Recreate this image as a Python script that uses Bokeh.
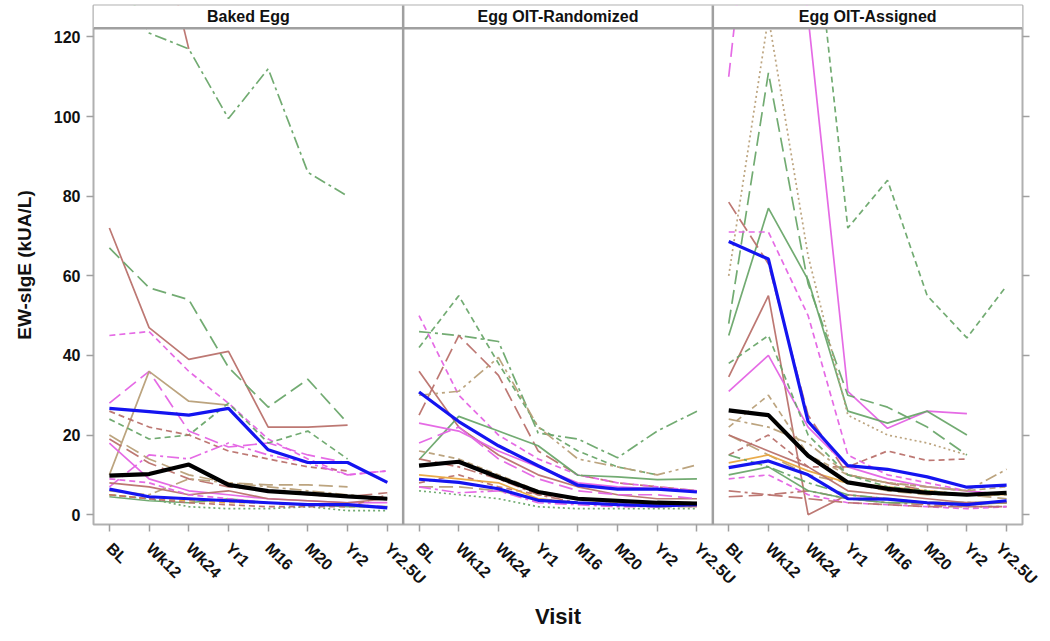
import math
import numpy as np
from bokeh.plotting import figure
from bokeh.models import FixedTicker, LinearAxis, Range1d
from bokeh.embed import file_html
from bokeh.resources import INLINE
from bokeh.core.properties import value

# ---------------- data ----------------
visits = ["BL", "Wk12", "Wk24", "Yr1", "M16", "M20", "Yr2", "Yr2.5U"]
panels = ["Baked Egg", "Egg OIT-Randomized", "Egg OIT-Assigned"]
y_ticks = [0, 20, 40, 60, 80, 100, 120]
N = None

# Baked Egg individual subjects
be_values = [
    [140, 121, 117, 99.5, 112, 86, 80, N],
    [N, 158, 117, N, N, N, N, N],
    [72, 47, 39, 41, 22, 22, 22.5, N],
    [67, 57, 54, 37, 27, 34, 23, N],
    [45, 46, 36, 28, 19, 14, 10, 11],
    [28, 36, 21, 17, 18, 15, 13, 8],
    [10, 36, 28.5, 27.5, N, N, N, N],
    [24, 19, 20, 28, 18, 21, 14, N],
    [26, 22, 20, 16, 14, 12, 11, N],
    [7, 15, 14, 18, 15, 13, 10, 11],
    [20, 14, 10, 8, 7.5, 7.5, 7, N],
    [19, 13, 9, 7, 6, 5, 4.5, 5.5],
    [18, 9, 6, 5, 4, 3.5, 3, 3],
    [5, 4, 2, 1.5, 1.5, 2, 1, 1],
    [6, 5, 9, 8, 7, 6, 5, 4],
    [5, 4, 3.5, 3, 3, 2.5, 2, 2],
    [4.5, 3.5, 3, 4, 3, 2.5, 2, 2],
    [8, 7, 5, 6, 4, 3.5, 3, 4],
    [9, 8, 5, 4, 3, 2.5, 2.5, 2],
    [5, 4, 3, 2.5, 2, 2, 2, 5],
]
be_colors = ["g", "r", "r", "g", "m", "m", "t", "g", "r", "m",
             "t", "r", "m", "g", "t", "o", "g", "r", "m", "r"]
be_dashes = ["dashdot", "solid", "solid", "longdash", "dash", "longdash", "solid", "dash", "dash", "dashdot",
             "longdash", "longdash", "solid", "dot", "dashdot", "dash", "solid", "solid", "dash", "dash"]
be_q3 = [26.7, 25.9, 25.0, 26.7, 16.3, 13.1, 13.1, 8.1]
be_median = [9.8, 10.2, 12.6, 7.5, 5.9, 5.3, 4.6, 4.0]
be_q1 = [6.4, 4.5, 4.0, 3.5, 3.0, 2.5, 2.5, 1.7]

# Egg OIT-Randomized
ro_values = [
    [46, 45, 43.5, 20.5, 19, 14.3, 21, 26],
    [42, 55, 38, 22, 16, 12, 10, N],
    [25, 45, 35, 16, 10, 8, 7, 6],
    [50, 30, 20, 14, 10, 8, 7, 6],
    [36, 22, 15, 10, 7, 5, 4, 4],
    [30, 31, 39.5, 22, 14, 12, 10, 12.5],
    [13.8, 24.7, 21, 17.3, 9.9, 9.5, 8.8, 9],
    [23, 21, 16, 12, 8, 7, 6.5, 6],
    [18, 22, 14, 9, 6, 5, 5, 4],
    [8, 10, 7, 5, 4, 3, 3, 3],
    [7, 7, 6, 4, 3, 2.5, 2, 2],
    [10, 9, 8, 4, 3, 2.5, 2, 3],
    [6, 5, 4, 2, 1.5, 1.5, 1.5, 1.5],
    [7, 5.5, 6, 3, 2.5, 2, 2, 2.5],
    [14, 12, 9, 5, 3, 2.5, 2.5, 2],
    [16, 14, 10, 6, 4, 3, 2.5, 3],
]
ro_colors = ["g", "g", "r", "m", "r", "t", "g", "m", "m", "r",
             "t", "o", "g", "m", "r", "t"]
ro_dashes = ["dashdot", "dash", "longdash", "dash", "solid", "dashdotdot", "solid", "solid", "longdash", "dash",
             "longdash", "solid", "dot", "dashdot", "dashdot", "dash"]
ro_q3 = [30.8, 23.4, 17.3, 12.3, 7.4, 6.4, 6.4, 5.7]
ro_median = [12.3, 13.3, 9.4, 5.7, 4.0, 3.5, 3.0, 2.8]
ro_q1 = [8.9, 8.1, 6.5, 3.6, 3.0, 2.5, 2.2, 2.5]

# Egg OIT-Assigned
ao_values = [
    [110, 200, N, N, N, N, N, N],
    [N, 220, 125, 31, 21.7, 26, 25.4, N],
    [N, N, 165, 72, 84, 55, 44.4, 57.5],
    [48, 111, 58, 30, 27, 22, 15, N],
    [45, 77, 59, 26, 23, 26, 20, N],
    [60, 125, 65, 25, 20, 18, 15, N],
    [78.5, 63, 25, 10, 8, 6, 5, 5],
    [71, 71, 50, 15, 10, 8, 6, 5],
    [34.6, 55, 0, 5, 4, 3, 3, 3],
    [31, 40, 22, 12, 9, 7, 6, 5],
    [15, 20, 12, 12, 16, 13.6, 14, N],
    [22, 30, 15, 10, 8, 7, 6, 7],
    [20, 15, 10, 8, 6, 5, 5, 4],
    [13, 15, 11, 8, 7, 6, 5, 5],
    [15, 12, 8, 5, 4, 3, 3, 3],
    [6, 5, 6, 4, 3, 2.5, 2, 2],
    [9, 10, 5, 3, 2.5, 2, 1.5, 2],
    [4.5, 5, 4, 3, 2.5, 2, 2, 2],
    [24, 22, 18, 10, 8, 7, 6, 11.4],
    [38, 45, 20, 10, 7, 6, 5, 5],
    [10, 12, 6, 4, 3, 3, 2.5, 3],
    [20, 16, 12, 6, 5, 4, 3, 3],
]
ao_colors = ["m", "m", "g", "g", "g", "t", "r", "m", "r", "m", "r",
             "t", "t", "o", "g", "r", "m", "r", "t", "g", "g", "r"]
ao_dashes = ["longdash", "solid", "dash", "longdash", "solid", "dot", "longdash", "dash", "solid", "solid", "dash",
             "dash", "longdash", "solid", "dashdot", "dashdot", "dash", "longdash", "dashdot", "dash", "solid", "solid"]
ao_q3 = [68.6, 64.2, 23.4, 12.3, 11.4, 9.5, 6.9, 7.4]
ao_median = [26.2, 25.0, 14.8, 8.1, 6.5, 5.5, 5.0, 5.5]
ao_q1 = [11.8, 13.5, 10.0, 4.0, 3.9, 3.0, 2.5, 3.5]

# ---------------- styles ----------------
COLORS = {"g": "#6aa66a", "r": "#b9716c", "t": "#b89f78", "m": "#e463e4", "o": "#e8a640"}
DASHES = {"solid": "solid", "dash": "6 4", "longdash": "14 6", "dashdot": "12 4 3 4",
          "dashdotdot": "12 4 3 4 3 4", "dot": "2 3"}
FONT = value("Liberation Sans")
PW = 78          # panel width in x units
STEP = 10        # step between visits
OFF = 4          # offset of first visit

p = figure(width=1040, height=632, output_backend="svg", toolbar_location=None,
           x_range=Range1d(0, 3 * PW), y_range=Range1d(-2.47, 127.9),
           min_border_left=93, min_border_right=18, min_border_top=5, min_border_bottom=99)
p.xgrid.visible = False
p.ygrid.visible = False
p.outline_line_color = "#b0b0b0"
p.outline_line_width = 2
p.background_fill_color = "white"
p.border_fill_color = "white"

data_sets = [
    (be_values, be_colors, be_dashes, be_q3, be_median, be_q1),
    (ro_values, ro_colors, ro_dashes, ro_q3, ro_median, ro_q1),
    (ao_values, ao_colors, ao_dashes, ao_q3, ao_median, ao_q1),
]

for k, (vals, cols, dashes, q3, med, q1) in enumerate(data_sets):
    xs = [k * PW + OFF + STEP * i for i in range(len(visits))]
    for v, c, d in zip(vals, cols, dashes):
        y = np.array([np.nan if a is None else a for a in v], dtype=float)
        p.line(xs, y, line_color=COLORS[c], line_dash=DASHES[d], line_width=1.7, line_alpha=0.95)
    p.line(xs, q3, line_color="#1414f0", line_width=3.2)
    p.line(xs, q1, line_color="#1414f0", line_width=3.2)
    p.line(xs, med, line_color="black", line_width=4.2)

# header strips
p.quad(left=[k * PW for k in range(3)], right=[(k + 1) * PW for k in range(3)],
       bottom=[122.2] * 3, top=[131] * 3, fill_color="white", line_color=None)
p.segment(x0=[0], y0=[122.2], x1=[3 * PW], y1=[122.2], line_color="#a0a0a0", line_width=2.5)
p.segment(x0=[PW, 2 * PW], y0=[-10, -10], x1=[PW, 2 * PW], y1=[140, 140], line_color="#a0a0a0", line_width=2.5)
p.text(x=[k * PW + PW / 2 for k in range(3)], y=[125.1] * 3, text=panels, text_font=FONT,
       text_font_style="bold", text_font_size="16px", text_align="center", text_baseline="middle",
       text_color="#111111")

# axes
tick_pos = [k * PW + OFF + STEP * i for k in range(3) for i in range(len(visits))]
p.xaxis.ticker = FixedTicker(ticks=tick_pos)
p.xaxis.major_label_overrides = {t: visits[j % len(visits)] for j, t in enumerate(tick_pos)}
p.xaxis.major_label_orientation = -math.pi / 4
p.xaxis.axis_label = "Visit"
p.yaxis.ticker = FixedTicker(ticks=y_ticks)
p.yaxis.axis_label = "EW-sIgE (kUA/L)"

for ax in [p.xaxis[0], p.yaxis[0]]:
    ax.axis_line_color = None
    ax.major_tick_line_color = "#a0a0a0"
    ax.major_tick_line_width = 1.5
    ax.major_tick_out = 7
    ax.major_tick_in = 0
    ax.minor_tick_line_color = None
    ax.major_label_text_font = "Liberation Sans"
    ax.major_label_text_font_style = "bold"
    ax.major_label_text_font_size = "16px"
    ax.major_label_text_color = "#111111"
    ax.axis_label_text_font = "Liberation Sans"
    ax.axis_label_text_font_style = "bold"
    ax.axis_label_text_color = "#111111"

p.xaxis.major_label_standoff = 14
p.yaxis.major_label_standoff = 6
p.yaxis.axis_label_text_font_size = "19px"
p.yaxis.axis_label_standoff = 16
p.xaxis.axis_label_text_font_size = "22px"
p.xaxis.axis_label_standoff = 8

raxis = LinearAxis(ticker=FixedTicker(ticks=y_ticks))
raxis.axis_line_color = None
raxis.major_tick_line_color = "#a0a0a0"
raxis.major_tick_line_width = 1.5
raxis.major_tick_out = 7
raxis.major_tick_in = 0
raxis.minor_tick_line_color = None
raxis.major_label_overrides = {t: "" for t in y_ticks}
raxis.major_label_standoff = 0
p.add_layout(raxis, "right")

open("out.html", "w").write(file_html(p, INLINE))
